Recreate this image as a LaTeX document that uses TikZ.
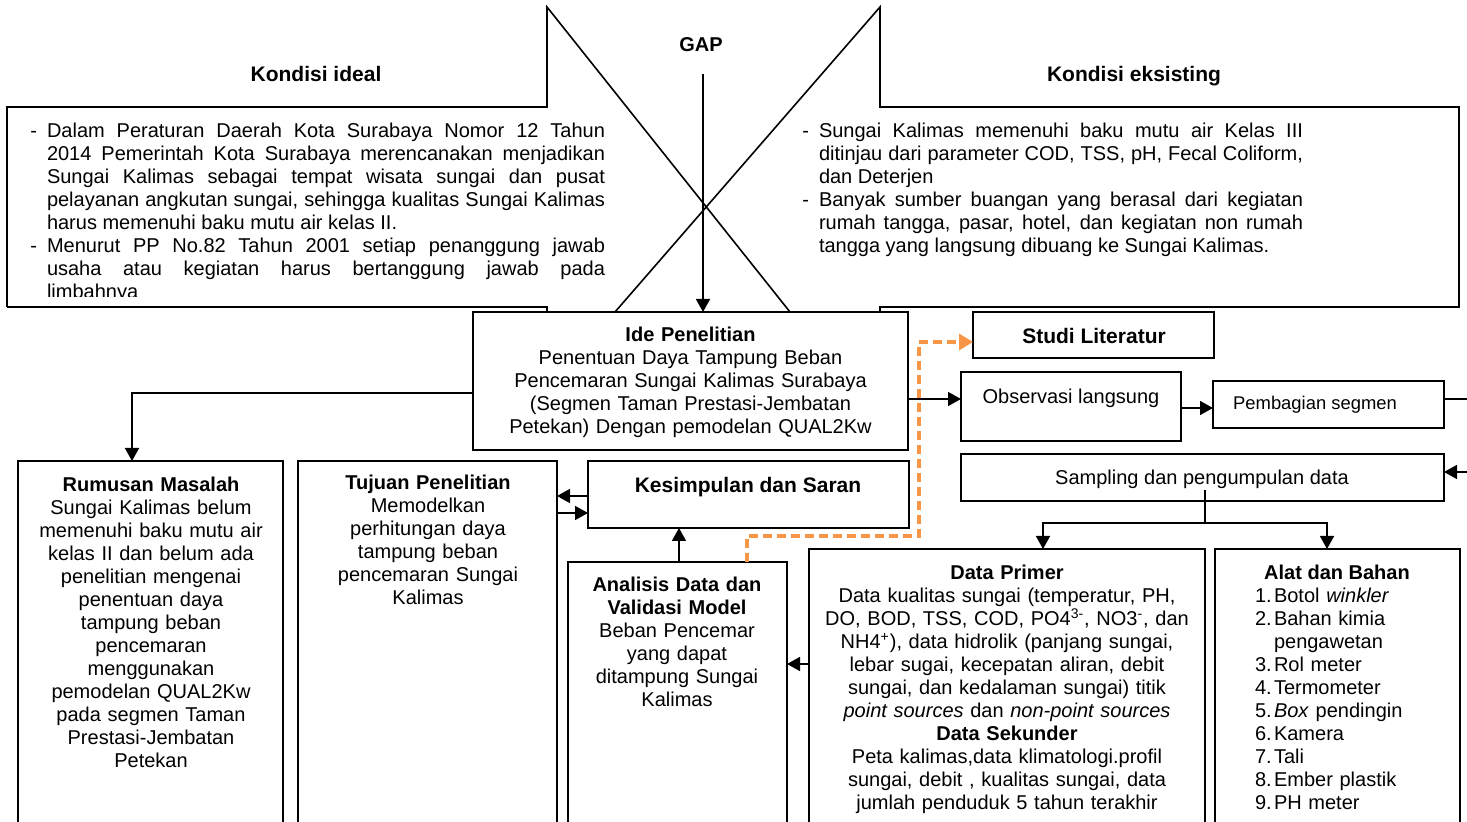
\documentclass[tikz,border=0pt]{standalone}
\usepackage{fontspec}
\setmainfont{Liberation Sans}
\usetikzlibrary{arrows.meta,calc}
\definecolor{dashorange}{HTML}{F79646}
\newcommand\fsbody{\fontsize{10}{11.5}\selectfont}
\newcommand\fshead{\fontsize{10.5}{12}\selectfont\bfseries}
\newcommand\bulletdash{\leavevmode\llap{-\hspace{5pt}}}
% frame box from corner (x1,y1) to (x2,y2), in pixel units
\newcommand\mkbox[6][]{%
  \node[boxframe,#1,anchor=north west,
        minimum width={(#5-#3)*0.5pt},minimum height={(#6-#4)*0.5pt}] (#2) at (#3,#4) {};}
\tikzset{
  every node/.style={inner sep=0pt, outer sep=0pt},
  boxframe/.style={draw, line width=0.9pt, fill=white},
  outline/.style={line width=0.8pt, line join=miter},
  arr/.style={line width=0.8pt, -{Triangle[length=6.5pt,width=7pt]}},
  orarr/.style={line width=1.6pt, dashorange, dash pattern=on 4.5pt off 2.5pt,
                -{Triangle[length=7pt,width=8pt]}},
  para/.style={font=\fsbody, align=justify},
  ctext/.style={font=\fsbody, align=center, anchor=base},
  head/.style={font=\fshead, anchor=base},
}
\begin{document}
\begin{tikzpicture}[x=0.5pt,y=-0.5pt]
\useasboundingbox (0,0) rectangle (1467,822);

% the two callout outlines with their crossing pointers
\draw[outline] (7,307) -- (7,107) -- (547,107) -- (547,7) -- (790,312);
\draw[outline] (7,307) -- (547,307) -- (547,312);
\draw[outline] (880,312) -- (880,307) -- (1459,307) -- (1459,107) -- (880,107) -- (880,7) -- (615,312);

\node[head, font=\fsbody\bfseries] (gap) at (701,52) {GAP};
\node[head] (idealhead) at (316,81.5) {Kondisi ideal};
\node[head] (eksishead) at (1134,81.5) {Kondisi eksisting};

\begin{scope}
  \clip (0,0) rectangle (1467,297);
  \node[para, text width=279pt, anchor=base west] (idealtxt) at (47,137.5)
  {\tolerance=10000\hyphenpenalty=10000
   \bulletdash Dalam Peraturan Daerah Kota Surabaya Nomor 12 Tahun\linebreak
   2014 Pemerintah Kota Surabaya merencanakan menjadikan\linebreak
   Sungai Kalimas sebagai tempat wisata sungai dan pusat\linebreak
   pelayanan angkutan sungai, sehingga kualitas Sungai Kalimas\linebreak
   harus memenuhi baku mutu air kelas II.\par
   \bulletdash Menurut PP No.82 Tahun 2001 setiap penanggung jawab\linebreak
   usaha atau kegiatan harus bertanggung jawab pada\linebreak
   limbahnya\par};
\end{scope}

\node[para, text width=242pt, anchor=base west] (eksistxt) at (819,137.5)
{\tolerance=10000\hyphenpenalty=10000
 \bulletdash Sungai Kalimas memenuhi baku mutu air Kelas III\linebreak
 ditinjau dari parameter COD, TSS, pH, Fecal Coliform,\linebreak
 dan Deterjen\par
 \bulletdash Banyak sumber buangan yang berasal dari kegiatan\linebreak
 rumah tangga, pasar, hotel, dan kegiatan non rumah\linebreak
 tangga yang langsung dibuang ke Sungai Kalimas.\par};

% boxes
\mkbox{ide}{473}{312}{908}{450}
\mkbox{studi}{973}{312}{1214}{358}
\mkbox{obs}{961}{372}{1181}{441}
\mkbox{pemb}{1213}{381}{1444}{428}
\mkbox{samp}{961}{454}{1444}{501}
\mkbox{rum}{18}{461}{283}{840}
\mkbox{tuj}{298}{461}{557}{840}
\mkbox{kes}{588}{461}{909}{528}
\mkbox{ana}{568}{562}{787}{840}
\mkbox{prim}{809}{549}{1205}{840}
\mkbox[line width=1.2pt]{alat}{1215}{549}{1460}{840}

% connectors
\coordinate (gaptop) at (703,74);
\draw[arr] (gaptop) -- (gaptop |- ide.north);

\coordinate (lvObs) at (0,399);
\draw[arr] (ide.east |- lvObs) -- (obs.west |- lvObs);

\coordinate (bendRum) at (132,393);
\draw[arr] (ide.west |- bendRum) -- (bendRum) -- (bendRum |- rum.north);

\coordinate (lvPemb) at (0,408);
\draw[arr] (obs.east |- lvPemb) -- (pemb.west |- lvPemb);

\coordinate (lvOut) at (0,399);
\coordinate (lvSamp) at (0,472);
\coordinate (offright) at (1495,0);
\draw[arr] (pemb.east |- lvOut) -- (offright |- lvOut) -- (offright |- lvSamp) -- (samp.east |- lvSamp);

\coordinate (sampin) at (1205,490);
\coordinate (split) at (1205,523);
\coordinate (splitL) at (1043,523);
\coordinate (splitR) at (1327,523);
\draw[line width=0.8pt] (sampin) -- (split);
\draw[arr] (split) -- (splitL) -- (splitL |- prim.north);
\draw[arr] (split) -- (splitR) -- (splitR |- alat.north);

\coordinate (lvKT1) at (0,496);
\coordinate (lvKT2) at (0,513);
\draw[arr] (kes.west |- lvKT1) -- (tuj.east |- lvKT1);
\draw[arr] (tuj.east |- lvKT2) -- (kes.west |- lvKT2);

\coordinate (colAK) at (679,0);
\draw[arr] (colAK |- ana.north) -- (colAK |- kes.south);

\coordinate (lvPA) at (0,664);
\draw[arr] (prim.west |- lvPA) -- (ana.east |- lvPA);

\coordinate (orA) at (747,536);
\coordinate (orB) at (919,342);
\draw[orarr] (orA |- ana.north) -- (orA) -| (orB) -- (studi.west |- orB);

% box texts
\node[ctext, text width=216pt] (idetxt) at (690.5,341.5)
{\textbf{Ide Penelitian}\\ Penentuan Daya Tampung Beban\\ Pencemaran Sungai Kalimas Surabaya\\
 (Segmen Taman Prestasi-Jembatan\\ Petekan) Dengan pemodelan QUAL2Kw};

\node[head] (studitxt) at (1094,343.5) {Studi Literatur};
\node[ctext] (obstxt) at (1071,403.5) {Observasi langsung};
\node[ctext, font=\fontsize{9.2}{11}\selectfont] (pembtxt) at (1315,410) {Pembagian segmen};
\node[ctext] (samptxt) at (1202,484.5) {Sampling dan pengumpulan data};
\node[head] (kestxt) at (748,492.5) {Kesimpulan dan Saran};

\node[ctext, text width=130pt] (rumtxt) at (151,491.5)
{\textbf{Rumusan Masalah}\\ Sungai Kalimas belum\\ memenuhi baku mutu air\\ kelas II dan belum ada\\
 penelitian mengenai\\ penentuan daya\\ tampung beban\\ pencemaran\\ menggunakan\\
 pemodelan QUAL2Kw\\ pada segmen Taman\\ Prestasi-Jembatan\\ Petekan};

\node[ctext, text width=125pt] (tujtxt) at (428,489.5)
{\textbf{Tujuan Penelitian}\\ Memodelkan\\ perhitungan daya\\ tampung beban\\ pencemaran Sungai\\ Kalimas};

\node[ctext, text width=106pt] (anatxt) at (677,591.5)
{\textbf{Analisis Data dan}\\ \textbf{Validasi Model}\\ Beban Pencemar\\ yang dapat\\ ditampung Sungai\\ Kalimas};

\node[ctext, text width=194pt] (primtxt) at (1007,579.5)
{\textbf{Data Primer}\\
 Data kualitas sungai (temperatur, PH,\\
 DO, BOD, TSS, COD, PO4\textsuperscript{3-}, NO3\textsuperscript{-}, dan\\
 NH4\textsuperscript{+}), data hidrolik (panjang sungai,\\
 lebar sugai, kecepatan aliran, debit\\
 sungai, dan kedalaman sungai) titik\\
 \textit{point sources} dan \textit{non-point sources}\\
 \textbf{Data Sekunder}\\
 Peta kalimas,data klimatologi.profil\\
 sungai, debit , kualitas sungai, data\\
 jumlah penduduk 5 tahun terakhir};

\node[ctext, font=\fsbody\bfseries] (alathead) at (1337,579.5) {Alat dan Bahan};
\node[font=\fsbody, align=left, text width=110pt, anchor=base west] (alatlist) at (1255,602.5)
{\makebox[9.5pt][l]{1.}Botol \textit{winkler}\\
 \makebox[9.5pt][l]{2.}Bahan kimia\\
 \hspace*{9.5pt}pengawetan\\
 \makebox[9.5pt][l]{3.}Rol meter\\
 \makebox[9.5pt][l]{4.}Termometer\\
 \makebox[9.5pt][l]{5.}\textit{Box} pendingin\\
 \makebox[9.5pt][l]{6.}Kamera\\
 \makebox[9.5pt][l]{7.}Tali\\
 \makebox[9.5pt][l]{8.}Ember plastik\\
 \makebox[9.5pt][l]{9.}PH meter};
\end{tikzpicture}
\end{document}
